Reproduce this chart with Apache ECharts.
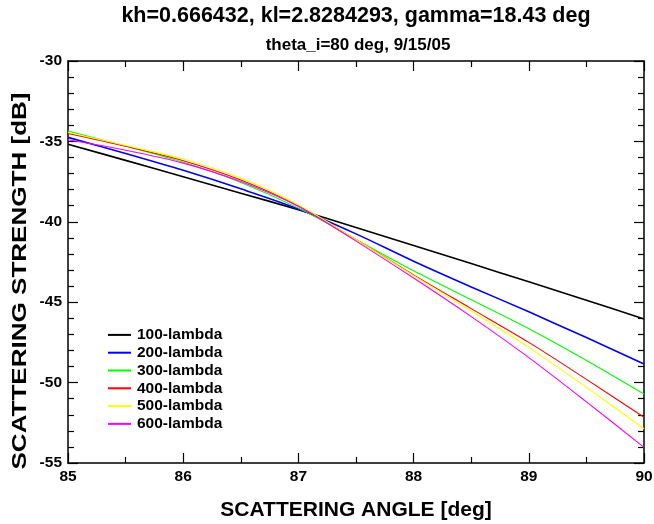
<!DOCTYPE html>
<html>
<head>
<meta charset="utf-8">
<script src="https://cdn.jsdelivr.net/npm/echarts@6/dist/echarts.min.js"></script>
<style>html,body{margin:0;padding:0;background:#fff}#c{width:654px;height:524px}</style>
</head>
<body>
<div id="c"></div>
<script>
const angles = [85, 85.5, 86, 86.5, 87, 87.5, 88, 88.5, 89, 89.5, 90];
const names = ['100-lambda','200-lambda','300-lambda','400-lambda','500-lambda','600-lambda'];
const colors = ['#000000','#0000ff','#00ff00','#ff0000','#ffff00','#ff00ff'];
const s100 = [-35.18,-36.18,-37.2,-38.22,-39.25,-40.35,-41.47,-42.6,-43.73,-44.88,-46.04];
const s200 = [-34.75,-35.75,-36.8,-37.95,-39.2,-40.75,-42.45,-44.05,-45.6,-47.2,-48.84];
const s300 = [-34.35,-35.3,-36.3,-37.55,-39.15,-41.1,-43.05,-44.85,-46.65,-48.62,-50.71];
const s400 = [-34.5,-35.3,-36.2,-37.4,-39.0,-41.1,-43.3,-45.4,-47.5,-49.8,-52.16];
const s500 = [-34.45,-35.25,-36.1,-37.3,-38.95,-41.1,-43.35,-45.55,-47.81,-50.3,-52.87];
const s600 = [-34.9,-35.55,-36.35,-37.5,-39.05,-41.2,-43.5,-45.9,-48.45,-51.2,-54.03];
const seriesData = [s100,s200,s300,s400,s500,s600];
const xTicks = [85,86,87,88,89,90];
const yTicks = [-55,-50,-45,-40,-35,-30];
const titleText = 'kh=0.666432, kl=2.8284293, gamma=18.43 deg';
const subText = 'theta_i=80 deg, 9/15/05';
const xName = 'SCATTERING ANGLE [deg]';
const yName = 'SCATTERING STRENGTH [dB]';

const font = '"Liberation Sans", Arial, sans-serif';
const chart = echarts.init(document.getElementById('c'), null, {renderer:'canvas'});
const axisCommon = {
  axisLine:{show:true, lineStyle:{color:'#000', width:1.5}},
  axisTick:{show:true, inside:true, length:10, lineStyle:{color:'#000', width:1.2}},
  minorTick:{show:true, length:6, lineStyle:{color:'#000', width:1.2}},
  splitLine:{show:false}
};
chart.setOption({
  animation:false,
  backgroundColor:'#fff',
  title:[
    {text:titleText, left:351, top:0, textAlign:'center',
     textStyle:{fontFamily:font, fontWeight:'bold', fontSize:21.5, color:'#000'}},
    {text:subText, left:353, top:32, textAlign:'center',
     textStyle:{fontFamily:font, fontWeight:'bold', fontSize:17, color:'#000'}}
  ],
  grid:{left:68, right:10, top:61, bottom:61, outerBoundsMode:'none', containLabel:false},
  legend:{
    orient:'vertical', left:103, top:321, itemWidth:23, itemHeight:2, itemGap:0,
    icon:'rect', data:names,
    textStyle:{fontFamily:font, fontWeight:'bold', fontSize:15.5, color:'#000', lineHeight:17.8, padding:[0,0,0,1]}
  },
  graphic:[
    {type:'text', x:20, y:281, rotation:Math.PI/2, scaleX:1.24,
     style:{text:yName, fontFamily:font, fontWeight:'bold', fontSize:21, fill:'#000',
       align:'center', verticalAlign:'middle'}}
  ],
  xAxis:[
    Object.assign({type:'value', min:85, max:90, interval:1, position:'bottom',
      name:xName, nameLocation:'middle', nameGap:37,
      nameTextStyle:{fontFamily:font, fontWeight:'bold', fontSize:21, color:'#000'},
      axisLabel:{fontFamily:font, fontWeight:'bold', fontSize:15.5, color:'#000', margin:6,
        formatter:v => xTicks.includes(v) ? String(v) : ''}}, axisCommon,
      {minorTick:Object.assign({}, axisCommon.minorTick, {splitNumber:2})}),
    Object.assign({type:'value', min:85, max:90, interval:1, position:'top',
      axisLabel:{show:false}}, axisCommon,
      {minorTick:Object.assign({}, axisCommon.minorTick, {splitNumber:2})})
  ],
  yAxis:[
    Object.assign({type:'value', min:-55, max:-30, interval:5, position:'left',
      axisLabel:{fontFamily:font, fontWeight:'bold', fontSize:15.5, color:'#000', margin:6,
        formatter:v => yTicks.includes(v) ? String(v) : ''}}, axisCommon,
      {minorTick:Object.assign({}, axisCommon.minorTick, {splitNumber:5})}),
    Object.assign({type:'value', min:-55, max:-30, interval:5, position:'right',
      axisLabel:{show:false}}, axisCommon,
      {minorTick:Object.assign({}, axisCommon.minorTick, {splitNumber:5})})
  ],
  series: seriesData.map((d,i) => ({
    name:names[i], type:'line', xAxisIndex:0, yAxisIndex:0,
    data:angles.map((a,j) => [a, d[j]]),
    showSymbol:false, smooth:0.3,
    lineStyle:{color:colors[i], width:(i<2?1.6:1.1)},
    itemStyle:{color:colors[i]}
  }))
});
</script>
</body>
</html>
